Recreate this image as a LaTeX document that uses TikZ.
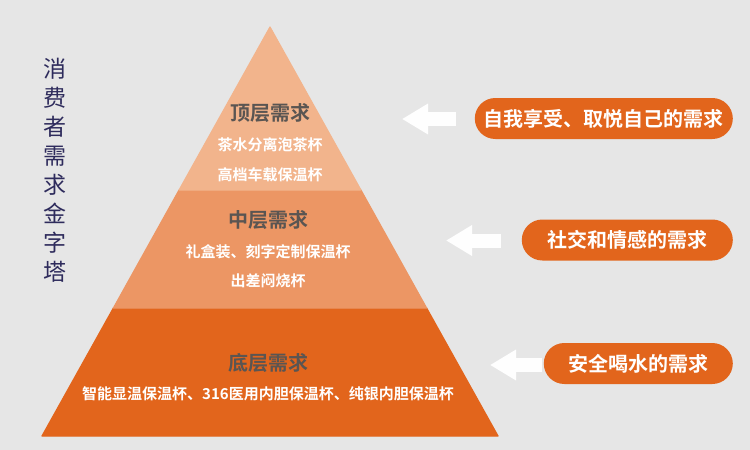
\documentclass[tikz,border=0pt]{standalone}
\usepackage{fontspec}
\setmainfont{Noto Sans CJK SC}[BoldFont={Noto Sans CJK SC Bold}]
\usetikzlibrary{arrows.meta}
\definecolor{bggray}{HTML}{E6E6E6}
\definecolor{toplayer}{HTML}{F2B48C}
\definecolor{midlayer}{HTML}{EC9664}
\definecolor{baselayer}{HTML}{E2651C}
\definecolor{headgray}{HTML}{5A5552}
\definecolor{navy}{HTML}{2E2B5C}
\tikzset{
  layer/.style={draw=white!80!toplayer, line width=1.2pt, line join=round},
  head/.style={font=\bfseries\fontsize{20}{24}\selectfont, text=headgray},
  item/.style={font=\bfseries\fontsize{15}{18}\selectfont, text=white},
  need/.style={fill=baselayer, rounded corners=20.5pt, minimum height=41pt, inner sep=0pt,
    anchor=east, text=white, font=\bfseries\fontsize{20}{24}\selectfont},
  pointer/.style={draw=white!97!bggray, line width=14pt, -{Triangle[length=26pt,width=29pt]}}
}
\begin{document}
\begin{tikzpicture}[x=1pt,y=-1pt]
  \fill[bggray] (0,0) rectangle (750,450);
  \useasboundingbox (0,0) rectangle (750,450);
  \fill[layer, baselayer] (113.4,308) -- (426.6,308) -- (498,436) -- (42,436) -- cycle;
  \fill[layer, midlayer] (179.1,190) -- (360.9,190) -- (426.6,308) -- (113.4,308) -- cycle;
  \fill[layer, toplayer] (270,27) -- (360.9,190) -- (179.1,190) -- cycle;
  \draw
    (270,113) node[head] (tophead){顶层需求}
    (270,145) node[item] (topa){茶水分离泡茶杯}
    (270,175) node[item] (topb){高档车载保温杯}
    (268,219.5) node[head] (midhead){中层需求}
    (268,252) node[item] (mida){礼盒装、刻字定制保温杯}
    (268,281) node[item] (midb){出差闷烧杯}
    (268,363) node[head] (basehead){底层需求}
    (268,394) node[item] (basea){智能显温保温杯、316医用内胆保温杯、纯银内胆保温杯};
  \node[text=navy, align=center, font=\fontsize{23}{29}\selectfont] (title) at (55,170)
    {消\\费\\者\\需\\求\\金\\字\\塔};
  \node[need, minimum width=258pt] (need1) at (733,118.5) {自我享受、取悦自己的需求};
  \node[need, minimum width=211pt] (need2) at (733,240) {社交和情感的需求};
  \node[need, minimum width=189pt] (need3) at (733,363.5) {安全喝水的需求};
  \coordinate (p1s) at (456,119);  \coordinate (p1e) at (402,119);
  \coordinate (p2s) at (501,240.5);\coordinate (p2e) at (446,240.5);
  \coordinate (p3s) at (542,365);  \coordinate (p3e) at (490,365);
  \begin{scope}[pointer]
    \draw (p1s) -- (p1e);
    \draw (p2s) -- (p2e);
    \draw (p3s) -- (p3e);
  \end{scope}
\end{tikzpicture}
\end{document}
